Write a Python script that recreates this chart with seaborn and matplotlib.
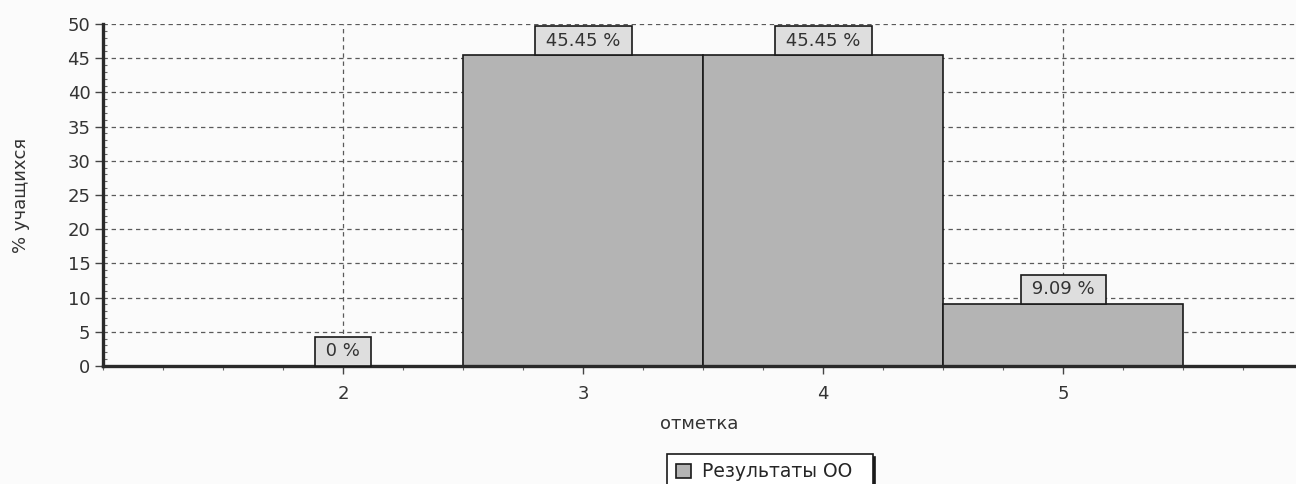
import matplotlib
matplotlib.use("Agg")
import matplotlib.pyplot as plt
from matplotlib.ticker import MultipleLocator
import pandas as pd
import seaborn as sns

# values
marks = [2, 3, 4, 5]
percents = [0.0, 45.45, 45.45, 9.09]
bar_labels = ["0 %", "45.45 %", "45.45 %", "9.09 %"]
y_ticks = [0, 5, 10, 15, 20, 25, 30, 35, 40, 45, 50]
series_name = "Результаты ОО"

sns.set_style("white")
plt.rcParams['font.family'] = ['DejaVu Sans']

df = pd.DataFrame({"mark": marks, "pct": percents})

fig = plt.figure(figsize=(12.96, 4.84), dpi=100, facecolor="#fbfbfb")
ax = fig.add_axes([0.0795, 0.2438, 0.9205, 0.7066])
ax.set_facecolor("#fbfbfb")

sns.barplot(data=df, x="mark", y="pct", native_scale=True, width=1.0,
            color="#b4b4b4", saturation=1, edgecolor="#1a1a1a", linewidth=1.2,
            ax=ax, label=series_name, zorder=2)
if ax.legend_ is not None:
    ax.legend_.remove()

ax.set_xlim(1, 5.97)
ax.set_ylim(0, 50)
ax.set_xticks(marks)
ax.set_yticks(y_ticks)
ax.xaxis.set_minor_locator(MultipleLocator(0.25))
ax.yaxis.set_minor_locator(MultipleLocator(1))

ax.set_axisbelow(True)
ax.grid(True, which="major", color="#5a5a5a", linestyle=(0, (3.5, 3)), linewidth=0.9)

for side in ["top", "right"]:
    ax.spines[side].set_visible(False)
for side in ["left", "bottom"]:
    ax.spines[side].set_linewidth(2.4)
    ax.spines[side].set_color("#2a2a2a")

ax.tick_params(axis="both", which="both", bottom=True, left=True)
ax.tick_params(axis="both", which="major", direction="out", length=6, width=1,
               color="#444444", labelsize=13, labelcolor="#333333")
ax.tick_params(axis="x", which="minor", direction="out", length=3, width=0.8,
               color="#666666")
ax.tick_params(axis="y", which="minor", direction="in", length=3, width=0.8,
               color="#666666")
ax.tick_params(axis="x", which="major", pad=8)
ax.tick_params(axis="y", which="major", pad=3)

ax.set_xlabel("отметка", fontsize=13, color="#333333", labelpad=8)
ax.set_ylabel("% учащихся", fontsize=13, color="#333333", labelpad=27)

# value boxes sitting on top of each bar
ax.bar_label(ax.containers[0], labels=[f" {t} " for t in bar_labels],
             padding=4, fontsize=13, color="#333333", zorder=4,
             bbox=dict(boxstyle="square,pad=0.3", facecolor="#dedede",
                       edgecolor="#1a1a1a", linewidth=1.2))

leg = fig.legend(handles=ax.containers[0][:1], labels=[series_name + "  "],
                 loc="upper center", bbox_to_anchor=(0.594, 0.062),
                 fancybox=False, shadow={"color": "#1a1a1a", "alpha": 1},
                 framealpha=1, edgecolor="#1a1a1a",
                 fontsize=13.5, handlelength=0.8, handleheight=0.8,
                 borderpad=0.45, handletextpad=0.6, borderaxespad=0)
leg.get_frame().set_linewidth(1.2)
leg.get_frame().set_facecolor("white")

fig.savefig("out.png", dpi=100, facecolor=fig.get_facecolor())
